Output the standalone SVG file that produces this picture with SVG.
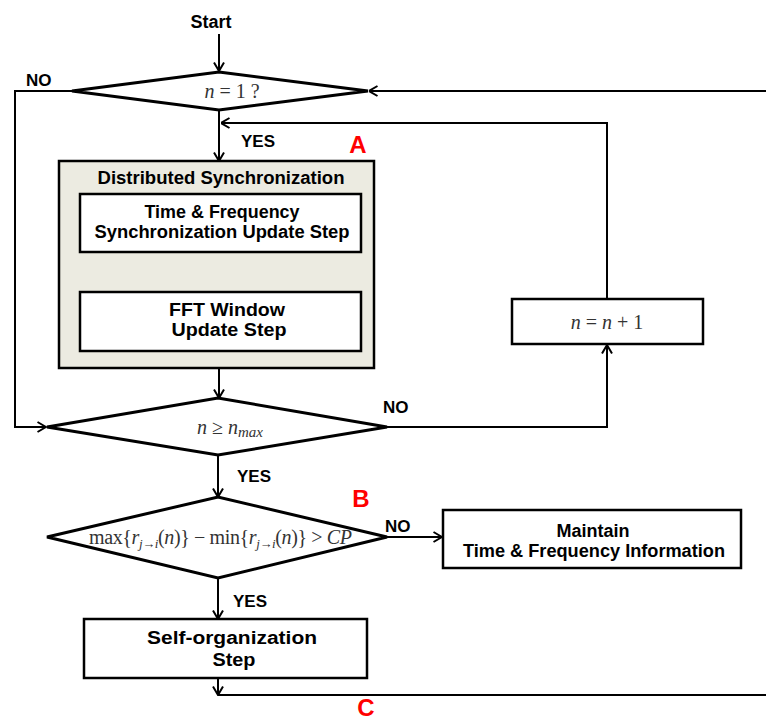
<svg xmlns="http://www.w3.org/2000/svg" width="766" height="722" viewBox="0 0 766 722">
<defs>
<marker id="arr" viewBox="0 0 10 12" refX="9.5" refY="6" markerWidth="10" markerHeight="12" markerUnits="userSpaceOnUse" orient="auto">
<path d="M1,1 L9.5,6 L1,11" fill="none" stroke="#000" stroke-width="2"/>
</marker>
</defs>
<style>
.lbl{font-family:"Liberation Sans",Arial,sans-serif;font-weight:bold;fill:#000;}
.t{font-size:17.5px;}
.yn{font-size:17px;}
.red{font-family:"Liberation Sans",Arial,sans-serif;font-weight:bold;fill:#ff0000;font-size:24px;}
.math{font-family:"Liberation Serif","Times New Roman",serif;fill:#333;font-size:20px;}
.it{font-style:italic;}
.box{fill:#fff;stroke:#000;stroke-width:2.5;}
.dia{fill:#fff;stroke:#000;stroke-width:3;stroke-linejoin:miter;}
.con{fill:none;stroke:#000;stroke-width:2;}
</style>
<rect width="766" height="722" fill="#fff"/>

<g id="connectors">
<line class="con" x1="219" y1="34" x2="219" y2="71" marker-end="url(#arr)"/>
<polyline class="con" points="72,91 15,91 15,427 46,427" marker-end="url(#arr)"/>
<line class="con" x1="766" y1="91" x2="369" y2="91" marker-end="url(#arr)"/>
<polyline class="con" points="607,299 607,123 221,123" marker-end="url(#arr)"/>
<line class="con" x1="219" y1="110" x2="219" y2="161" marker-end="url(#arr)"/>
<line class="con" x1="219" y1="252" x2="219" y2="292" marker-end="url(#arr)"/>
<line class="con" x1="219" y1="368" x2="219" y2="398" marker-end="url(#arr)"/>
<polyline class="con" points="387,427 607,427 607,345" marker-end="url(#arr)"/>
<line class="con" x1="218" y1="455" x2="218" y2="497" marker-end="url(#arr)"/>
<line class="con" x1="387" y1="537" x2="442" y2="537" marker-end="url(#arr)"/>
<line class="con" x1="218" y1="578" x2="218" y2="619" marker-end="url(#arr)"/>
<line class="con" x1="218" y1="678" x2="218" y2="695" marker-end="url(#arr)"/>
<line class="con" x1="218" y1="695" x2="766" y2="695"/>
</g>

<g id="start">
<text class="lbl" x="211" y="28" font-size="18" text-anchor="middle">Start</text>
</g>

<g id="decision1">
<polygon class="dia" points="72,91 219,72 368,91 219,110"/>
<text class="math" x="232" y="98" text-anchor="middle"><tspan class="it">n</tspan> = 1 ?</text>
</g>

<g id="distributed">
<rect x="59" y="161" width="315" height="207" fill="#ecebe1" stroke="#000" stroke-width="2.5"/>
<text class="lbl t" x="221" y="184" text-anchor="middle" textLength="247" lengthAdjust="spacingAndGlyphs">Distributed Synchronization</text>
</g>

<g id="tf-update">
<rect class="box" x="80" y="194" width="281" height="58"/>
<text class="lbl t" x="222" y="218" text-anchor="middle" textLength="155" lengthAdjust="spacingAndGlyphs">Time &amp; Frequency</text>
<text class="lbl t" x="222" y="238" text-anchor="middle" textLength="255" lengthAdjust="spacingAndGlyphs">Synchronization Update Step</text>
</g>

<g id="fft-update">
<rect class="box" x="80" y="292" width="281" height="59"/>
<text class="lbl t" x="227" y="316" text-anchor="middle" textLength="116" lengthAdjust="spacingAndGlyphs">FFT Window</text>
<text class="lbl t" x="229" y="336" text-anchor="middle" textLength="115" lengthAdjust="spacingAndGlyphs">Update Step</text>
</g>

<g id="increment">
<rect class="box" x="512" y="299" width="191" height="45"/>
<text class="math" x="607" y="329" text-anchor="middle"><tspan class="it">n</tspan> = <tspan class="it">n</tspan> + 1</text>
</g>

<g id="decision2">
<polygon class="dia" points="47,427 218,398 387,427 218,455"/>
<text class="math" x="197" y="434"><tspan class="it">n</tspan> ≥ <tspan class="it">n</tspan><tspan class="it" font-size="15" dy="3">max</tspan></text>
</g>

<g id="decision3">
<polygon class="dia" points="47,537 218,497 387,537 218,578"/>
<text class="math" x="89" y="544" font-size="19" textLength="263" lengthAdjust="spacing">max{<tspan class="it">r</tspan><tspan class="it" font-size="13" dy="4">j→i</tspan><tspan dy="-4">(</tspan><tspan class="it">n</tspan>)} − min{<tspan class="it">r</tspan><tspan class="it" font-size="13" dy="4">j→i</tspan><tspan dy="-4">(</tspan><tspan class="it">n</tspan>)} &gt; <tspan class="it">CP</tspan></text>
</g>

<g id="maintain">
<rect class="box" x="443" y="510" width="298" height="58"/>
<text class="lbl t" x="593" y="537" text-anchor="middle" textLength="73" lengthAdjust="spacingAndGlyphs">Maintain</text>
<text class="lbl t" x="594" y="557" text-anchor="middle" textLength="262" lengthAdjust="spacingAndGlyphs">Time &amp; Frequency Information</text>
</g>

<g id="self-org">
<rect class="box" x="84" y="619" width="283" height="59"/>
<text class="lbl t" x="232" y="644" text-anchor="middle" textLength="170" lengthAdjust="spacingAndGlyphs">Self-organization</text>
<text class="lbl t" x="234" y="666" text-anchor="middle" textLength="43" lengthAdjust="spacingAndGlyphs">Step</text>
</g>

<g id="labels">
<text class="lbl yn" x="26" y="86">NO</text>
<text class="lbl yn" x="241" y="147">YES</text>
<text class="lbl yn" x="383" y="413">NO</text>
<text class="lbl yn" x="237" y="482">YES</text>
<text class="lbl yn" x="385" y="532">NO</text>
<text class="lbl yn" x="233" y="607">YES</text>
<text class="red" x="358" y="153" text-anchor="middle">A</text>
<text class="red" x="361" y="507" text-anchor="middle">B</text>
<text class="red" x="366" y="716" font-size="22" text-anchor="middle">C</text>
</g>
</svg>
